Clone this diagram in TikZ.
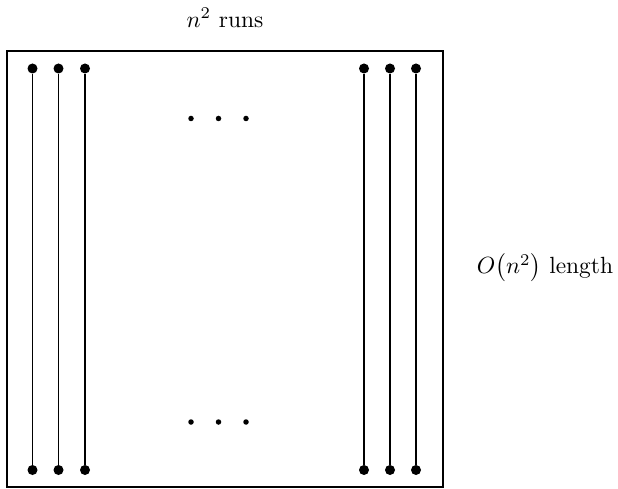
\documentclass[tikz,border=0pt]{standalone}
\usepackage{amsmath}
\begin{document}
\begin{tikzpicture}[x=0.015cm,y=-0.015cm,
  bigdot/.style={circle,fill=black,inner sep=0pt,minimum size=10*0.015cm},
  smalldot/.style={circle,fill=black,inner sep=0pt,minimum size=5.5*0.015cm},
  run/.style={line width=0.5pt},
  frame/.style={draw,line width=0.6pt}]
\useasboundingbox (0,0) rectangle (618,489);
\node[frame,minimum width=436*0.015cm,minimum height=436*0.015cm,inner sep=0pt] (box) at (225,269) {};
\foreach \i/\x in {1/32.5,2/58.5,3/85,4/364,5/390,6/416}{
  \node[bigdot] (t\i) at (\x,68.5) {};
  \node[bigdot] (b\i) at (\x,470) {};
  \draw[run] (t\i) -- (b\i);
}
\foreach \i/\x in {1/191,2/218.5,3/246}{
  \node[smalldot] (u\i) at (\x,118.5) {};
  \node[smalldot] (l\i) at (\x,422) {};
}
\node (top) at (225,18) {$n^2$ runs};
\node (side) at (545,268) {$O\bigl(n^2\bigr)$ length};
\end{tikzpicture}
\end{document}
